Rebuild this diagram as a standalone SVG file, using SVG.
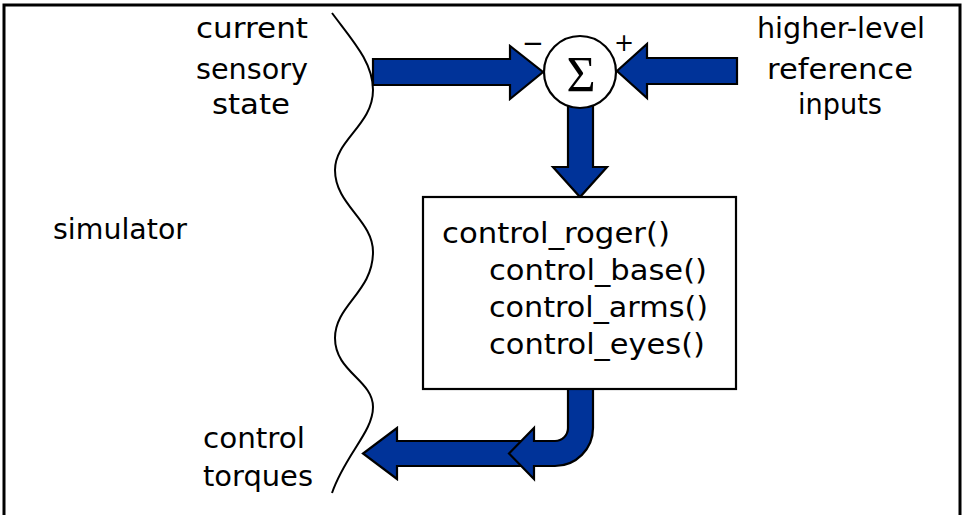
<svg xmlns="http://www.w3.org/2000/svg" width="964" height="515" viewBox="0 0 964 515">
<style>
.t{font-family:"DejaVu Sans","Liberation Sans",sans-serif;font-size:28px;fill:#000}
.arrow{fill:#003399;stroke:#000;stroke-width:2.2;stroke-linejoin:miter}
.ln{fill:none;stroke:#000}
</style>
<rect x="4" y="5" width="956" height="530" fill="#fff" stroke="#000" stroke-width="3"/>
<g id="boundary">
<path class="ln" stroke-width="2" d="M332,13 C352,40 373,62 373,90 C373,125 335,140 335,170 C335,205 373,220 373,252 C373,292 335,305 335,338 C335,372 373,380 373,407 C373,432 345,455 332,493"/>
</g>
<g id="connectors">
<path class="arrow" d="M373,59 L510,59 L510,46 L543,72 L510,99 L510,85 L373,85 Z"/>
<path class="arrow" d="M737,58 L647,58 L647,44 L617,71 L647,98 L647,84 L737,84 Z"/>
<path class="arrow" d="M568,100 L593,100 L593,167 L607,167 L580,197 L553,167 L568,167 Z"/>
<path class="arrow" d="M540,441 L397,441 L397,428 L363,453.5 L397,479 L397,466 L540,466 Z"/>
<path class="arrow" d="M568,389 L568,428 A13,13 0 0 1 555,441 L534,441 L534,428 L509,453.5 L534,479 L534,466 L555,466 A38,38 0 0 0 593,428 L593,389 Z"/>
</g>
<g id="sum">
<circle cx="580" cy="72" r="36" fill="#fff" stroke="#000" stroke-width="2.2"/>
<text x="581" y="91" text-anchor="middle" style="font-family:'Liberation Serif','DejaVu Serif',serif;font-size:50px">Σ</text>
<text x="533" y="52" text-anchor="middle" style="font-family:'DejaVu Sans',sans-serif;font-size:26px">−</text>
<text x="624" y="51" text-anchor="middle" style="font-family:'DejaVu Sans',sans-serif;font-size:24px">+</text>
</g>
<g id="controller">
<rect x="423" y="197" width="313" height="192" fill="#fff" stroke="#000" stroke-width="2.2"/>
<text class="t" x="442" y="243" textLength="228" lengthAdjust="spacingAndGlyphs">control_roger()</text>
<text class="t" x="489" y="280" textLength="218" lengthAdjust="spacingAndGlyphs">control_base()</text>
<text class="t" x="489" y="317" textLength="219" lengthAdjust="spacingAndGlyphs">control_arms()</text>
<text class="t" x="489" y="354" textLength="216" lengthAdjust="spacingAndGlyphs">control_eyes()</text>
</g>
<g id="sensory-label">
<text class="t" x="196" y="38" textLength="112" lengthAdjust="spacingAndGlyphs">current</text>
<text class="t" x="196" y="79" textLength="112" lengthAdjust="spacingAndGlyphs">sensory</text>
<text class="t" x="212" y="114" textLength="78" lengthAdjust="spacingAndGlyphs">state</text>
</g>
<g id="reference-label">
<text class="t" x="757" y="38" textLength="168" lengthAdjust="spacingAndGlyphs">higher-level</text>
<text class="t" x="767" y="79" textLength="146" lengthAdjust="spacingAndGlyphs">reference</text>
<text class="t" x="798" y="114" textLength="84" lengthAdjust="spacingAndGlyphs">inputs</text>
</g>
<g id="simulator-label">
<text class="t" x="53" y="239" textLength="134" lengthAdjust="spacingAndGlyphs">simulator</text>
</g>
<g id="torques-label">
<text class="t" x="203" y="448" textLength="102" lengthAdjust="spacingAndGlyphs">control</text>
<text class="t" x="203" y="486" textLength="110" lengthAdjust="spacingAndGlyphs">torques</text>
</g>
</svg>
